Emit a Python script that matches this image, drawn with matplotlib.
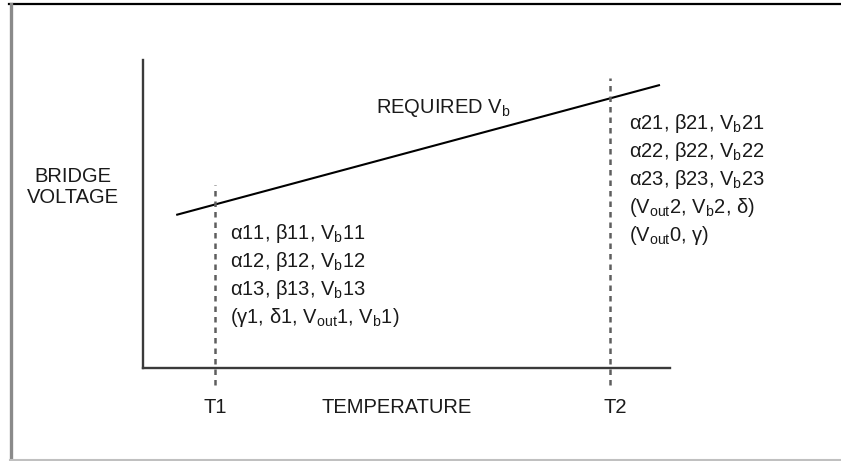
import matplotlib
matplotlib.use("Agg")
import matplotlib.pyplot as plt
from matplotlib.lines import Line2D

plt.rcParams['font.family'] = ['Liberation Sans', 'DejaVu Sans']
plt.rcParams['mathtext.fontset'] = 'custom'
plt.rcParams['mathtext.rm'] = 'Liberation Sans'
plt.rcParams['mathtext.it'] = 'Liberation Sans'
plt.rcParams['mathtext.default'] = 'rm'

# Data (temperature and voltage in arbitrary 0-100 units)
line_temp = [6.3, 98.1]
line_volt = [49.7, 91.9]
t_marks = [13.7, 88.6]
t_labels = ["T1", "T2"]
t_line_top = [59.4, 94.2]
left_block = [r"α11, β11, V$_{\mathrm{b}}$11",
              r"α12, β12, V$_{\mathrm{b}}$12",
              r"α13, β13, V$_{\mathrm{b}}$13",
              r"(γ1, δ1, V$_{\mathrm{out}}$1, V$_{\mathrm{b}}$1)"]
right_block = [r"α21, β21, V$_{\mathrm{b}}$21",
               r"α22, β22, V$_{\mathrm{b}}$22",
               r"α23, β23, V$_{\mathrm{b}}$23",
               r"(V$_{\mathrm{out}}$2, V$_{\mathrm{b}}$2, δ)",
               r"(V$_{\mathrm{out}}$0, γ)"]

W, H = 841, 461
fig = plt.figure(figsize=(W / 100, H / 100), dpi=100)
fig.patch.set_facecolor('white')

# outer frame
fig.add_artist(Line2D([9 / W, 1], [1 - 4.5 / H, 1 - 4.5 / H], color='black', lw=1.6))
fig.add_artist(Line2D([10.5 / W, 10.5 / W], [0, 1 - 4 / H], color='#8a8a8a', lw=2.4))
fig.add_artist(Line2D([10 / W, 1], [1.2 / H, 1.2 / H], color='#c0c0c0', lw=1.5))

ax = fig.add_axes([143 / W, (H - 368) / H, (670 - 143) / W, (368 - 60) / H])
ax.set_xlim(0, 100)
ax.set_ylim(0, 100)
for s in ['top', 'right']:
    ax.spines[s].set_visible(False)
for s in ['left', 'bottom']:
    ax.spines[s].set_color('#3a3a3a')
    ax.spines[s].set_linewidth(1.7)
ax.set_xticks([])
ax.set_yticks([])
ax.patch.set_alpha(0)

# required Vb line
ax.plot(line_temp, line_volt, color='black', lw=1.5, clip_on=False, solid_capstyle='butt')

# dotted temperature markers
for t, top in zip(t_marks, t_line_top):
    ax.plot([t, t], [-5.5, top], color='#5e5e5e', lw=1.8, ls=(0, (2.2, 2)), clip_on=False)

fs = 14.5
tc = '#1a1a1a'
ax.text(44.2, 84.4, r"REQUIRED V$_{\mathrm{b}}$", fontsize=fs, color=tc, ha='left', va='center')
ax.text(-13.3, 62.3, "BRIDGE", fontsize=fs, color=tc, ha='center', va='center')
ax.text(-13.3, 55.5, "VOLTAGE", fontsize=fs, color=tc, ha='center', va='center')
ax.text(48.2, -12.7, "TEMPERATURE", fontsize=fs, color=tc, ha='center', va='center')
ax.text(t_marks[0], -12.7, t_labels[0], fontsize=fs, color=tc, ha='center', va='center')
ax.text(t_marks[1] + 1.1, -12.7, t_labels[1], fontsize=fs, color=tc, ha='center', va='center')

step = 9.1
for i, s in enumerate(left_block):
    ax.text(16.5, 41.9 - i * step, s, fontsize=fs, color=tc, ha='left', va='baseline')
for i, s in enumerate(right_block):
    ax.text(92.2, 77.6 - i * step, s, fontsize=fs, color=tc, ha='left', va='baseline')

fig.savefig('out.png', dpi=100, facecolor='white')
